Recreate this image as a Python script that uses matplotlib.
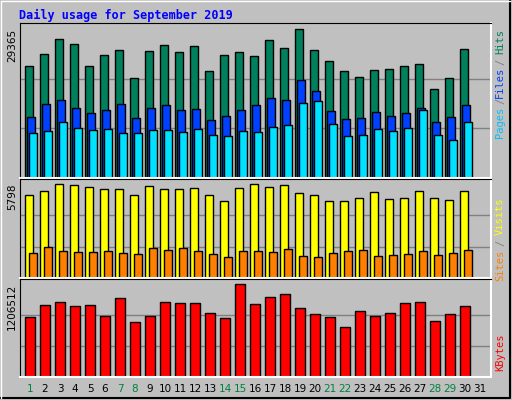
import matplotlib.pyplot as plt

days = list(range(1, 32))
hits = [22118, 24515, 27312, 26513, 22118, 24315, 25315, 19720, 25115, 26313, 24915, 26114, 21119, 24315, 24915,
        24116, 27113, 25714, 29365, 25315, 23117, 21119, 19920, 21319, 21518, 22118, 22517, 17522, 19720, 25514]
files = [12120, 14520, 15320, 13720, 12720, 13320, 14520, 11920, 13720, 14320, 13320, 13520, 11520, 12320, 13320,
         14320, 15720, 15320, 19320, 17120, 13120, 11720, 11920, 12920, 12320, 12720, 13720, 11120, 12120, 14320]
pages = [8930, 9330, 11130, 9930, 9530, 9730, 8930, 8930, 9530, 9530, 9130, 9730, 8530, 8330, 9330,
         9130, 10130, 10530, 14725, 15125, 10730, 8330, 8530, 9730, 9330, 9930, 13330, 8530, 7530, 11130]
visits = [5107, 5358, 5798, 5735, 5609, 5484, 5484, 5107, 5672, 5484, 5484, 5546, 5107, 4730, 5546,
          5798, 5609, 5735, 5233, 5107, 4730, 4730, 4919, 5295, 4856, 4919, 5358, 4919, 4793, 5358]
sites = [1528, 1905, 1653, 1591, 1591, 1653, 1528, 1465, 1842, 1716, 1842, 1653, 1465, 1277, 1653,
         1653, 1591, 1779, 1340, 1277, 1528, 1653, 1716, 1340, 1402, 1465, 1653, 1402, 1528, 1716]
kbytes = [770500, 929000, 968700, 915800, 929000, 783700, 1021500, 717700, 783700, 968700, 955500, 955500,
          823400, 757300, 1206512, 942200, 1034700, 1074300, 889400, 810200, 770500, 651600, 849800, 783700,
          823400, 955500, 968700, 730900, 810200, 915800]
weekends = [1, 7, 8, 14, 15, 21, 22, 28, 29]

W, H = 512, 400
fig = plt.figure(figsize=(W / 100, H / 100), dpi=100, facecolor="#C0C0C0")
mono = "DejaVu Sans Mono"

# outer 3D border
border = fig.add_axes([0, 0, 1, 1])
border.set_axis_off()
border.set_xlim(0, W)
border.set_ylim(H, 0)
border.plot([1, W - 2, W - 2], [H - 2, H - 2, 1], color="black", lw=1.5)
border.plot([1, 1, W - 2], [H - 2, 1, 1], color="white", lw=1)

fig.text(19 / W, 1 - 15 / H, "Daily usage for September 2019", color="#0000FF",
         fontsize=8.5, fontweight="bold", family=mono, va="center")


def panel(top, bottom):
    ax = fig.add_axes([20 / W, 1 - bottom / H, 471 / W, (bottom - top) / H])
    ax.set_facecolor("#C0C0C0")
    ax.set_xlim(0, 471 / 15)
    ax.set_xticks([])
    ax.set_yticks([])
    for s in ["left", "top"]:
        ax.spines[s].set_color("black")
    for s in ["right", "bottom"]:
        ax.spines[s].set_color("white")
        ax.spines[s].set_linewidth(1.5)
    return ax


def grid(ax, vmax, height_frac):
    ax.set_ylim(0, vmax / height_frac)
    for f in (1 / 3, 2 / 3):
        ax.axhline(vmax * f, color="#808080", lw=1, zorder=0)
    ax.text(-0.006, vmax, str(vmax), transform=ax.get_yaxis_transform(), rotation=90,
            ha="right", va="top", fontsize=7.5, family="DejaVu Sans")


x0 = [d - 1 + 0.333 for d in days[:30]]
bw = 8 / 15

ax1 = panel(23, 178)
grid(ax1, 29365, 147 / 153)
ax1.bar([x + bw / 2 for x in x0], hits, width=bw, color="#00805C", edgecolor="black", lw=1)
ax1.bar([x + 2 / 15 + bw / 2 for x in x0], files, width=bw, color="#0040FF", edgecolor="black", lw=1)
ax1.bar([x + 4 / 15 + bw / 2 for x in x0], pages, width=bw, color="#00E0FF", edgecolor="black", lw=1)

ax2 = panel(179, 278)
grid(ax2, 5798, 92.4 / 97)
ax2.bar([x + bw / 2 for x in x0], visits, width=bw, color="#FFFF00", edgecolor="black", lw=1)
ax2.bar([x + 4 / 15 + bw / 2 for x in x0], sites, width=bw, color="#FF8000", edgecolor="black", lw=1)

ax3 = panel(279, 377)
grid(ax3, 1206512, 91.3 / 96)
kw = 10 / 15
ax3.bar([x + kw / 2 for x in x0], kbytes, width=kw, color="#FF0000", edgecolor="black", lw=1)


# right side labels
def side(parts):
    for text, color, yy in parts:
        fig.text(500 / W, 1 - yy / H, text, color=color, rotation=90, ha="center", va="center",
                 fontsize=7.5, family=mono)


side([("Pages", "#00C0FF", 122), ("/", "#808080", 101), ("Files", "#0040FF", 82),
      ("/", "#808080", 62), ("Hits", "#00805C", 42)])
side([("Sites", "#FF8000", 265), ("/", "#808080", 243), ("Visits", "#FFFF00", 216)])
side([("KBytes", "#FF0000", 352)])

for d in days:
    c = "#008040" if d in weekends else "black"
    fig.text((20 + 5 + 15 * (d - 1) + 5) / W, 1 - 389 / H, str(d), color=c,
             ha="center", va="center", fontsize=7.5)

fig.savefig("out.png", dpi=100, facecolor=fig.get_facecolor())
